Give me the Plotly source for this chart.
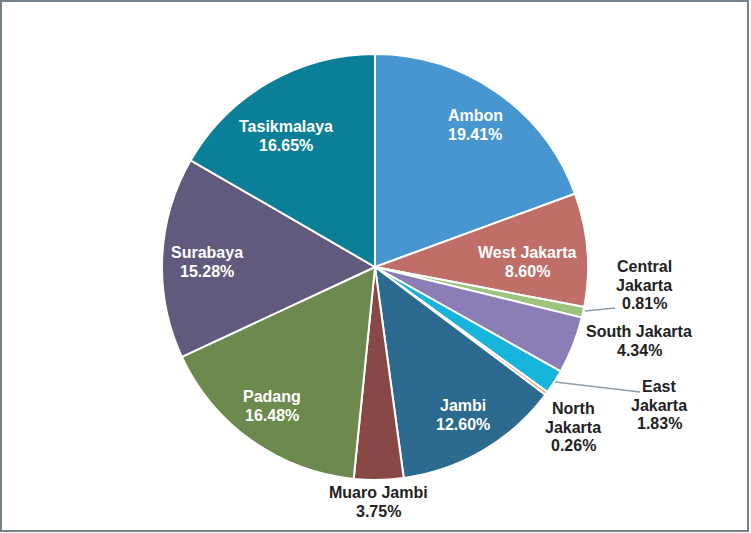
import plotly.graph_objects as go

# data
cities = ['Ambon', 'West Jakarta', 'Central Jakarta', 'South Jakarta', 'East Jakarta',
          'North Jakarta', 'Jambi', 'Muaro Jambi', 'Padang', 'Surabaya', 'Tasikmalaya']
shares = [19.41, 8.60, 0.81, 4.34, 1.83, 0.26, 12.60, 3.75, 16.48, 15.28, 16.65]
colors = ['#4896d0', '#c06f68', '#9cc47c', '#8b7eb6', '#17b4dc', '#f0a070',
          '#2d6a8f', '#884845', '#6d894d', '#625a7c', '#0b7f97']

# label display text (line breaks as in the original)
label_lines = {
    'Central Jakarta': ['Central', 'Jakarta'],
    'East Jakarta': ['East', 'Jakarta'],
    'North Jakarta': ['North', 'Jakarta'],
}

W, H = 751, 533
CX, CY, R = 375, 267, 213  # pie centre / radius in pixels
LINE = 18.5                # label line spacing in pixels

# label block centres in pixels
label_pos = {
    'Ambon': (475, 125),
    'West Jakarta': (527, 262),
    'Central Jakarta': (644, 285),
    'South Jakarta': (639, 341),
    'East Jakarta': (659, 405),
    'North Jakarta': (573, 427),
    'Jambi': (463, 415),
    'Muaro Jambi': (378, 502),
    'Padang': (272, 406),
    'Surabaya': (207, 262),
    'Tasikmalaya': (286, 136),
}
outside = {'Central Jakarta', 'South Jakarta', 'East Jakarta', 'North Jakarta', 'Muaro Jambi'}
leaders = {
    'Central Jakarta': ((585, 311), (615, 308)),
    'East Jakarta': ((555, 382), (640, 392)),
}

fig = go.Figure(go.Pie(
    labels=cities,
    values=shares,
    sort=False,
    direction='clockwise',
    marker=dict(colors=colors, line=dict(color='white', width=2)),
    textinfo='none',
    hoverinfo='label+percent',
    showlegend=False,
    domain=dict(x=[(CX - R) / W, (CX + R) / W], y=[1 - (CY + R) / H, 1 - (CY - R) / H]),
))


def px(x, y):
    return x / W, 1 - y / H


for name, val in zip(cities, shares):
    lines = label_lines.get(name, [name]) + ['%.2f%%' % val]
    cx, cy = label_pos[name]
    color = '#222222' if name in outside else 'white'
    n = len(lines)
    for i, line in enumerate(lines):
        ax, ay = px(cx, cy + (i - (n - 1) / 2) * LINE)
        fig.add_annotation(x=ax, y=ay, xref='paper', yref='paper', text=line, showarrow=False,
                           xanchor='center', yanchor='middle', align='center',
                           font=dict(family='Liberation Sans, Arial, sans-serif', size=16,
                                     color=color, weight='bold'))
    if name in leaders:
        (sx, sy), (ex, ey) = leaders[name]
        x0, y0 = px(sx, sy)
        x1, y1 = px(ex, ey)
        fig.add_shape(type='line', xref='paper', yref='paper', x0=x0, y0=y0, x1=x1, y1=y1,
                      line=dict(color='#8d9ba5', width=1.5))

# outer frame
fx0, fy0 = px(1, 1)
fx1, fy1 = px(748, 531)
fig.add_shape(type='rect', xref='paper', yref='paper', x0=fx0, y0=fy0, x1=fx1, y1=fy1,
              line=dict(color='#76828a', width=2))

fig.update_layout(
    width=W, height=H,
    margin=dict(l=0, r=0, t=0, b=0),
    paper_bgcolor='white',
    plot_bgcolor='white',
)

# drop the browser's default body margin so the chart sits at the page corner
fig.write_html('out.html', config={'displayModeBar': False},
               post_script="document.body.style.margin='0';")
